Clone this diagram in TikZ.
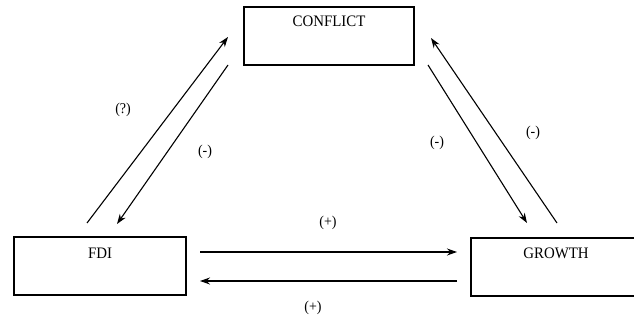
\documentclass[tikz,border=0pt]{standalone}
\usepackage{fontspec}
\setmainfont{Liberation Serif}[FakeStretch=0.93]
\usetikzlibrary{arrows.meta}
\begin{document}
\begin{tikzpicture}[x=1pt,y=-1pt,
  boxnode/.style={draw, line width=1.1pt, minimum width=#1, minimum height=58pt, inner sep=0pt},
  boxnode/.default=170pt,
  lbl/.style={font=\fontsize{15}{17}\selectfont, inner sep=0pt},
  txt/.style={font=\fontsize{16}{18}\selectfont, inner sep=0pt},
  conn/.style={line width=1.1pt, -{Stealth[length=10pt,width=7pt]}}]
\useasboundingbox (0,0) rectangle (634,320);
\clip (0,0) rectangle (634,320);
% boxes
\node[boxnode=170pt] (conf) at (329,36) {};
\node[boxnode=172pt] (fdi) at (100,266) {};
\node[boxnode=170pt] (gro) at (556,267) {};
\node[txt] (tconf) at (329,21) {CONFLICT};
\node[txt] (tfdi) at (100,253) {FDI};
\node[txt] (tgro) at (556,253) {GROWTH};
% endpoints
\coordinate (a1s) at (87,223);  \coordinate (a1e) at (228,37);
\coordinate (a2s) at (228,65);  \coordinate (a2e) at (117,224);
\coordinate (a3s) at (557,223); \coordinate (a3e) at (431,38);
\coordinate (a4s) at (428,65);  \coordinate (a4e) at (527,223);
\coordinate (h1s) at (200,252); \coordinate (h1e) at (457,252);
\coordinate (h2s) at (457,281); \coordinate (h2e) at (200,281);
\draw[conn] (a1s) -- (a1e);
\draw[conn] (a2s) -- (a2e);
\draw[conn] (a3s) -- (a3e);
\draw[conn] (a4s) -- (a4e);
\draw[conn] (h1s) -- (h1e);
\draw[conn] (h2s) -- (h2e);
% labels
\node[lbl] (l1) at (123,110) {(?)};
\node[lbl] (l2) at (205,152) {(-)};
\node[lbl] (l3) at (437,143) {(-)};
\node[lbl] (l4) at (533,133) {(-)};
\node[lbl] (l5) at (328,223) {(+)};
\node[lbl] (l6) at (313,308) {(+)};
\end{tikzpicture}
\end{document}
